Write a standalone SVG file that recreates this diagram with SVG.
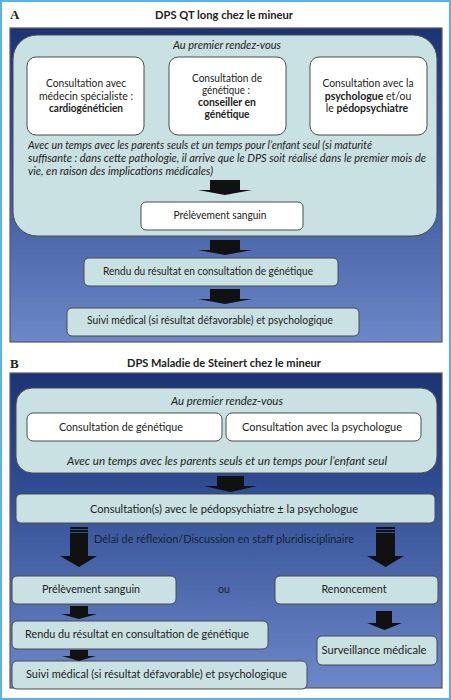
<svg xmlns="http://www.w3.org/2000/svg" width="451" height="700" viewBox="0 0 451 700">
<defs>
<linearGradient id="bg" x1="0" y1="0" x2="0" y2="1">
<stop offset="0" stop-color="#1c3474"/>
<stop offset="0.35" stop-color="#2f4c92"/>
<stop offset="1" stop-color="#6d88c8"/>
</linearGradient>
<style>
text{font-family:Lato,"Liberation Sans",Arial,sans-serif;fill:#222;font-size:10.5px}
.t{font-weight:bold;font-size:11.5px}
.lbl{font-family:"Liberation Serif","Times New Roman",serif;font-weight:bold;font-size:13px}
.i{font-style:italic}
.b{font-weight:bold}
.c{text-anchor:middle}
.frame{fill:url(#bg);stroke:#55586a;stroke-width:1.2}
.inner{fill:#c9e1e3;stroke:#4a4a4a;stroke-width:1}
.wb{fill:#ffffff;stroke:#4a4a4a;stroke-width:1}
.cb{fill:#c9e1e3;stroke:#4a4a4a;stroke-width:1}
.arr{fill:#111}
.s{fill:#3b4f8c}
.dl{fill:#1a1f3a}
</style>
</defs>
<rect x="1" y="1" width="449" height="698" fill="#ffffff" stroke="#5ab2e8" stroke-width="2"/>

<g id="panelA">
<text class="lbl" x="10" y="19">A</text>
<text class="t c" x="224" y="19" textLength="138" lengthAdjust="spacingAndGlyphs">DPS QT long chez le mineur</text>
<rect class="frame" x="10" y="28" width="432" height="314"/>
</g>

<g id="a_premier">
<rect class="inner" x="13" y="35" width="424" height="201" rx="24"/>
<text class="i c" x="227" y="49" textLength="108" lengthAdjust="spacingAndGlyphs">Au premier rendez-vous</text>
<text class="i" x="28" y="149" textLength="344" lengthAdjust="spacingAndGlyphs">Avec un temps avec les parents seuls et un temps pour l’enfant seul (si maturité</text>
<text class="i" x="28" y="162" textLength="398" lengthAdjust="spacingAndGlyphs">suffisante : dans cette pathologie, il arrive que le DPS soit réalisé dans le premier mois de</text>
<text class="i" x="28" y="175" textLength="185" lengthAdjust="spacingAndGlyphs">vie, en raison des implications médicales)</text>
</g>

<g id="a_cardio">
<rect class="wb" x="27" y="57" width="117" height="78" rx="9"/>
<text class="c" x="86" y="87" textLength="80" lengthAdjust="spacingAndGlyphs">Consultation avec</text>
<text class="c" x="86" y="100" textLength="94" lengthAdjust="spacingAndGlyphs">médecin spécialiste :</text>
<text class="c b" x="86" y="112" textLength="74" lengthAdjust="spacingAndGlyphs">cardiogénéticien</text>
</g>

<g id="a_genetique">
<rect class="wb" x="169" y="57" width="117" height="78" rx="9"/>
<text class="c" x="227" y="82" textLength="70" lengthAdjust="spacingAndGlyphs">Consultation de</text>
<text class="c" x="226" y="94" textLength="48" lengthAdjust="spacingAndGlyphs">génétique :</text>
<text class="c b" x="227" y="106" textLength="58" lengthAdjust="spacingAndGlyphs">conseiller en</text>
<text class="c b" x="227" y="118" textLength="45" lengthAdjust="spacingAndGlyphs">génétique</text>
</g>

<g id="a_psy">
<rect class="wb" x="310" y="57" width="117" height="78" rx="9"/>
<text class="c" x="368" y="87" textLength="91" lengthAdjust="spacingAndGlyphs">Consultation avec la</text>
<text class="c" x="368" y="100" font-size="10">
<tspan class="b">psychologue</tspan> et/ou</text>
<text class="c" x="367" y="112" font-size="10">le <tspan class="b">pédopsychiatre</tspan></text>
</g>

<g id="a_prelev">
<rect class="wb" x="141" y="202" width="162" height="28" rx="5"/>
<text class="c" x="220" y="219" textLength="93" lengthAdjust="spacingAndGlyphs">Prélèvement sanguin</text>
</g>

<g id="a_rendu">
<rect class="cb" x="84" y="258" width="254" height="28" rx="5"/>
<text class="c" x="208" y="275" textLength="210" lengthAdjust="spacingAndGlyphs">Rendu du résultat en consultation de génétique</text>
</g>

<g id="a_suivi">
<rect class="cb" x="67" y="308" width="292" height="28" rx="5"/>
<text class="c" x="210" y="324" textLength="246" lengthAdjust="spacingAndGlyphs">Suivi médical (si résultat défavorable) et psychologique</text>
</g>

<g id="panelB">
<text class="lbl" x="10" y="368">B</text>
<text class="t c" x="224" y="367" textLength="194" lengthAdjust="spacingAndGlyphs">DPS Maladie de Steinert chez le mineur</text>
<rect class="frame" x="10" y="373" width="432" height="315"/>
</g>

<g id="b_premier">
<rect class="inner" x="16" y="388" width="421" height="85" rx="16"/>
<text class="i c" x="227" y="405" font-size="11" textLength="112" lengthAdjust="spacingAndGlyphs">Au premier rendez-vous</text>
<text class="i c" x="227" y="465" font-size="11" textLength="320" lengthAdjust="spacingAndGlyphs">Avec un temps avec les parents seuls et un temps pour l’enfant seul</text>
</g>

<g id="b_genetique">
<rect class="wb" x="27" y="413" width="195" height="28" rx="6"/>
<text class="c" x="121" y="431" font-size="11" textLength="124" lengthAdjust="spacingAndGlyphs">Consultation de génétique</text>
</g>

<g id="b_psy">
<rect class="wb" x="226" y="413" width="195" height="28" rx="6"/>
<text class="c" x="322" y="431" font-size="11" textLength="160" lengthAdjust="spacingAndGlyphs">Consultation avec la psychologue</text>
</g>

<g id="b_consult">
<rect class="cb" x="16" y="494" width="419" height="29" rx="5"/>
<text class="c" x="224" y="513" font-size="11" textLength="268" lengthAdjust="spacingAndGlyphs">Consultation(s) avec le pédopsychiatre ± la psychologue</text>
</g>

<g id="b_delai">
<text class="dl" x="94" y="543" font-size="11" textLength="260" lengthAdjust="spacingAndGlyphs">Délai de réflexion/Discussion en staff pluridisciplinaire</text>
</g>

<g id="b_prelev">
<rect class="cb" x="12" y="576" width="164" height="28" rx="5"/>
<text class="c" x="91" y="593" font-size="11" textLength="98" lengthAdjust="spacingAndGlyphs">Prélèvement sanguin</text>
</g>

<text x="224" y="593" class="c" font-size="11" textLength="12" lengthAdjust="spacingAndGlyphs">ou</text>

<g id="b_renon">
<rect class="cb" x="275" y="576" width="163" height="28" rx="5"/>
<text class="c" x="354" y="593" font-size="11" textLength="65" lengthAdjust="spacingAndGlyphs">Renoncement</text>
</g>

<g id="b_rendu">
<rect class="cb" x="12" y="621" width="256" height="28" rx="5"/>
<text x="25" y="638" font-size="11" textLength="224" lengthAdjust="spacingAndGlyphs">Rendu du résultat en consultation de génétique</text>
</g>

<g id="b_surv">
<rect class="cb" x="317" y="636" width="120" height="29" rx="5"/>
<text class="c" x="374" y="654" font-size="11" textLength="105" lengthAdjust="spacingAndGlyphs">Surveillance médicale</text>
</g>

<g id="b_suivi">
<rect class="cb" x="12" y="661" width="295" height="28" rx="5"/>
<text x="26" y="678" font-size="11" textLength="261" lengthAdjust="spacingAndGlyphs">Suivi médical (si résultat défavorable) et psychologique</text>
</g>

<g id="connectors">
<path class="arr" d="M210,180 H240 V190 H252 L225,195 L198,190 H210 Z"/>
<path class="arr" d="M210,240 H240 V250 H252 L225,255 L198,250 H210 Z"/>
<path class="arr" d="M210,289 H240 V299 H252 L225,304 L198,299 H210 Z"/>
<path class="arr" d="M217,476 H244 V486 H257 L230.5,492 L204,486 H217 Z"/>
<path class="arr" d="M70,527 H88 V556 H97 L79,567 L60,556 H70 Z"/>
<rect class="s" x="70" y="529" width="18" height="1"/>
<rect class="s" x="70" y="532" width="18" height="1"/>
<path class="arr" d="M376,527 H395 V556 H404 L385.5,567 L367,556 H376 Z"/>
<rect class="s" x="376" y="529" width="19" height="1"/>
<rect class="s" x="376" y="532" width="19" height="1"/>
<path class="arr" d="M70,606 H88 V614 H97 L79,619 L61,614 H70 Z"/>
<path class="arr" d="M70,650 H88 V656 H96 L79,661 L62,656 H70 Z"/>
<path class="arr" d="M376,611 H392 V623 H402 L384.5,630 L367,623 H376 Z"/>
</g>
</svg>
